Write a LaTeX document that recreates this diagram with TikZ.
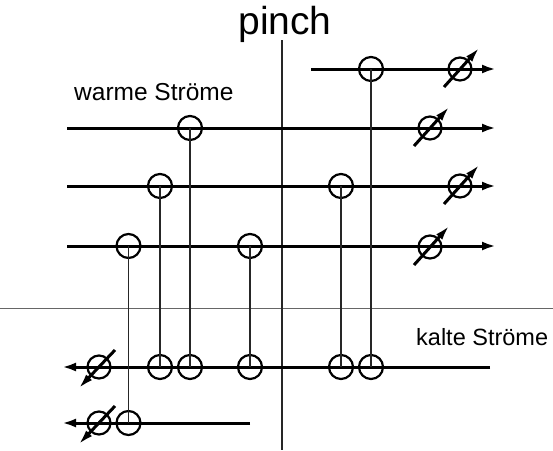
\documentclass[tikz,border=0pt]{standalone}
\usepackage{fontspec}
\setmainfont{Liberation Sans}
\usetikzlibrary{arrows.meta}
\begin{document}
\begin{tikzpicture}[x=1pt,y=-1pt,
  stream/.style={line width=3pt,-{Latex[length=14pt,width=9pt]}},
  hx/.style={circle,draw,line width=2.2pt,minimum size=24pt,inner sep=0pt},
  util/.style={circle,draw,line width=2.2pt,minimum size=23pt,inner sep=0pt},
  utilarrow/.style={line width=3pt,-{Latex[length=16pt,width=8pt]}},
  conn/.style={line width=1.4pt,black!85},
  lbl/.style={inner sep=0pt}]
\useasboundingbox (0,0) rectangle (553,450);
% pinch and separator
\coordinate (ptop) at (282,40);
\coordinate (pbot) at (282,450);
\coordinate (sepl) at (0,308);
\coordinate (sepr) at (553,308);
\draw[line width=1pt,black!60] (sepl) -- (sepr);
\draw[line width=1.3pt,black!85] (ptop) -- (pbot);
\node[inner sep=0pt,font=\fontsize{39}{42}\selectfont] (pinch) at (285,24) {pinch};
\node[lbl,anchor=west,font=\fontsize{24.5}{27}\selectfont] (warm) at (74,92) {warme Ströme};
\node[lbl,anchor=west,font=\fontsize{23.5}{26}\selectfont] (kalt) at (416,337) {kalte Ströme};
% stream end points
\coordinate (h1s) at (311,69);  \coordinate (h1e) at (496,69);
\coordinate (h2s) at (67,128);  \coordinate (h2e) at (496,128);
\coordinate (h3s) at (67,186);  \coordinate (h3e) at (496,186);
\coordinate (h4s) at (67,246);  \coordinate (h4e) at (496,246);
\coordinate (c1s) at (490,367); \coordinate (c1e) at (62,367);
\coordinate (c2s) at (250,423); \coordinate (c2e) at (62,423);
\draw[stream] (h1s) -- (h1e);
\draw[stream] (h2s) -- (h2e);
\draw[stream] (h3s) -- (h3e);
\draw[stream] (h4s) -- (h4e);
\draw[stream] (c1s) -- (c1e);
\draw[stream] (c2s) -- (c2e);
% heat exchangers on hot streams
\node[hx] (a1) at (371,69) {};
\node[hx] (a2) at (190,128) {};
\node[hx] (a3) at (160,186) {};
\node[hx] (a4) at (341,186) {};
\node[hx] (a5) at (128.5,246) {};
\node[hx] (a6) at (250,246) {};
% heat exchangers on cold streams
\node[hx] (b2) at (190,367) {};
\node[hx] (b3) at (160,367) {};
\node[hx] (b4) at (341,367) {};
\node[hx] (b1) at (371,367) {};
\node[hx] (b6) at (250,367) {};
\node[hx] (b5) at (128.5,423) {};
% connectors
\draw[conn] (a1.center) -- (b1.center);
\draw[conn] (a2.center) -- (b2.center);
\draw[conn] (a3.center) -- (b3.center);
\draw[conn] (a4.center) -- (b4.center);
\draw[conn] (a5.center) -- (b5.center);
\draw[conn] (a6.center) -- (b6.center);
% coolers
\node[util] (k1) at (460,69) {};
\node[util] (k2) at (430,128) {};
\node[util] (k3) at (460,186) {};
\node[util] (k4) at (430,247) {};
\foreach \k in {k1,k2,k3,k4}{
  \coordinate (\k t) at ([shift={(-16,18)}]\k.center);
  \coordinate (\k h) at ([shift={(20,-22)}]\k.center);
  \draw[utilarrow] (\k t) -- (\k h);
}
% heaters
\node[util] (w1) at (99,367) {};
\node[util] (w2) at (99,423) {};
\foreach \w in {w1,w2}{
  \coordinate (\w t) at ([shift={(16,-17)}]\w.center);
  \coordinate (\w h) at ([shift={(-21,22)}]\w.center);
  \draw[utilarrow] (\w t) -- (\w h);
}
\end{tikzpicture}
\end{document}
